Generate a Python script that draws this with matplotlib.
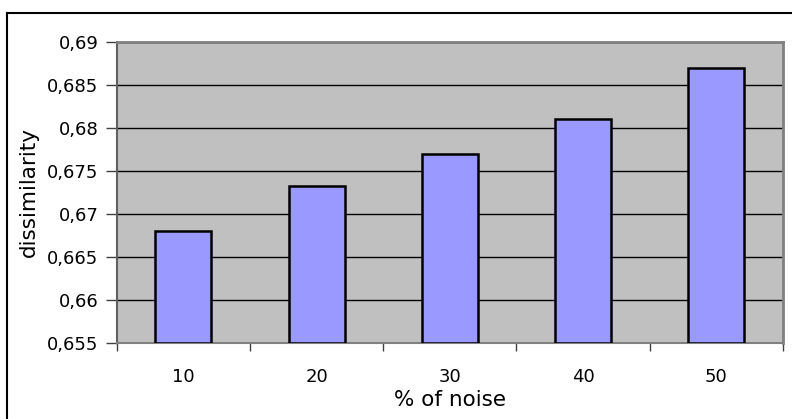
import numpy as np
import matplotlib.pyplot as plt
from matplotlib.lines import Line2D
from matplotlib.ticker import FuncFormatter, FixedLocator

# 数据：噪声百分比与相异度
noise_levels = ['10', '20', '30', '40', '50']
dissimilarity = [0.668, 0.6733, 0.677, 0.681, 0.687]
y_ticks = [0.655, 0.66, 0.665, 0.67, 0.675, 0.68, 0.685, 0.69]

plt.rcParams['font.family'] = ['DejaVu Sans']

fig = plt.figure(figsize=(7.92, 4.19), dpi=100)
ax = fig.add_axes([0.1473, 0.1807, 0.8413, 0.7198])
ax.set_facecolor('#C0C0C0')

x = np.arange(len(noise_levels))
ax.bar(x, np.array(dissimilarity) - 0.655, bottom=0.655, width=0.42,
       color='#9999FF', edgecolor='black', linewidth=1.8, zorder=3)

ax.set_ylim(0.655, 0.69)
ax.set_xlim(-0.5, len(noise_levels) - 0.5)
ax.set_yticks(y_ticks)
ax.yaxis.set_major_formatter(FuncFormatter(lambda v, p: f"{v:.3f}".rstrip('0').replace('.', ',')))
ax.grid(axis='y', color='black', linewidth=1.0, zorder=1)
ax.set_axisbelow(True)

# 刻度在类别边界，标签在类别中心
ax.xaxis.set_major_locator(FixedLocator(np.arange(-0.5, len(noise_levels), 1.0)))
ax.xaxis.set_major_formatter(FuncFormatter(lambda v, p: ''))
ax.xaxis.set_minor_locator(FixedLocator(x))
ax.set_xticklabels(noise_levels, minor=True)
ax.tick_params(axis='x', which='major', length=6, width=1, color='#404040')
ax.tick_params(axis='x', which='minor', length=0, pad=18, labelsize=13)
ax.tick_params(axis='y', length=8, width=1, color='#404040', pad=5, labelsize=13)

for side in ['top', 'right']:
    ax.spines[side].set_color('#808080')
    ax.spines[side].set_linewidth(2)
ax.spines['left'].set_color('#606060')
ax.spines['bottom'].set_color('#808080')
ax.spines['left'].set_linewidth(1.5)
ax.spines['bottom'].set_linewidth(1.5)

ax.set_xlabel('% of noise', fontsize=15.5, labelpad=3)
ax.set_ylabel('dissimilarity', fontsize=15.5, labelpad=6)

# 外框线（上边与左边）
fig.add_artist(Line2D([7 / 792, 1.0], [1 - 13 / 419, 1 - 13 / 419], color='black', linewidth=1.5))
fig.add_artist(Line2D([7 / 792, 7 / 792], [0.0, 1 - 13 / 419], color='black', linewidth=1.5))

fig.savefig('out.png', dpi=100)
